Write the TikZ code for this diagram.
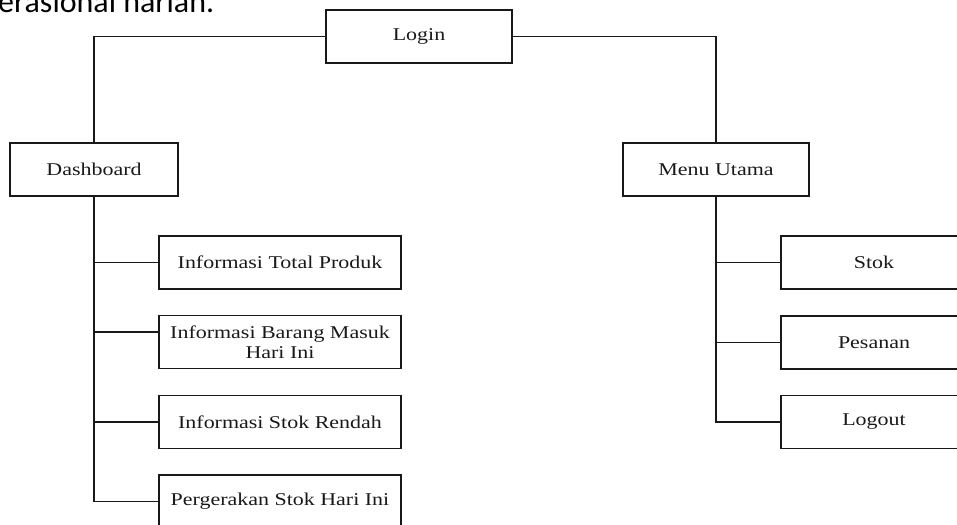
\documentclass[tikz,border=0pt]{standalone}
\usepackage{fontspec}
\setmainfont{Liberation Serif}[FakeStretch=1.22]
\newfontfamily\bodyfont{Carlito}
\begin{document}
\begin{tikzpicture}[
  x=1pt, y=-1pt,
  menu/.style={draw=black!90, line width=1.7pt, inner sep=0pt, minimum height=53pt,
    align=center, text=black!90, font=\fontsize{18}{20.5}\selectfont},
  sub/.style={menu, minimum width=242pt},
  link/.style={draw=black!90, line width=1.7pt}
]
  \useasboundingbox (0,0) rectangle (957,524);
  \clip (0,0) rectangle (957,524);
  % potongan teks di atas gambar
  \node[anchor=base west, inner sep=0pt, font=\bodyfont\fontsize{32}{36}\selectfont] (kalimat) at (-2,12.5) {erasional harian.};

  \node[menu, minimum width=186pt] (login) at (419,36.5) {Login};
  \node[menu, minimum width=168pt] (dash) at (94,169.5) {Dashboard};
  \node[menu, minimum width=186pt] (utama) at (716,169.5) {Menu Utama};

  \node[sub] (total) at (280,262.5) {Informasi Total Produk};
  \node[sub] (barang) at (280,342) {Informasi Barang Masuk\\Hari Ini};
  \node[sub] (rendah) at (280,422) {Informasi Stok Rendah};
  \node[sub] (gerak) at (280,501.5) {Pergerakan Stok Hari Ini};

  \node[menu, minimum width=186pt] (stok) at (874,262.5) {Stok};
  \node[menu, minimum width=186pt] (pesanan) at (874,342.5) {Pesanan};
  \node[menu, minimum width=186pt] (logout) at (874,422) {Logout};

  \coordinate (barang-in) at ([yshift=10pt]barang.west);

  \draw[link] (login.west) -| (dash.north);
  \draw[link] (login.east) -| (utama.north);

  \draw[link] (dash.south) |- (gerak.west);
  \draw[link] (dash.south |- total.west) -- (total.west);
  \draw[link] (dash.south |- barang-in) -- (barang-in);
  \draw[link] (dash.south |- rendah.west) -- (rendah.west);

  \draw[link] (utama.south) |- (logout.west);
  \draw[link] (utama.south |- stok.west) -- (stok.west);
  \draw[link] (utama.south |- pesanan.west) -- (pesanan.west);
\end{tikzpicture}
\end{document}
